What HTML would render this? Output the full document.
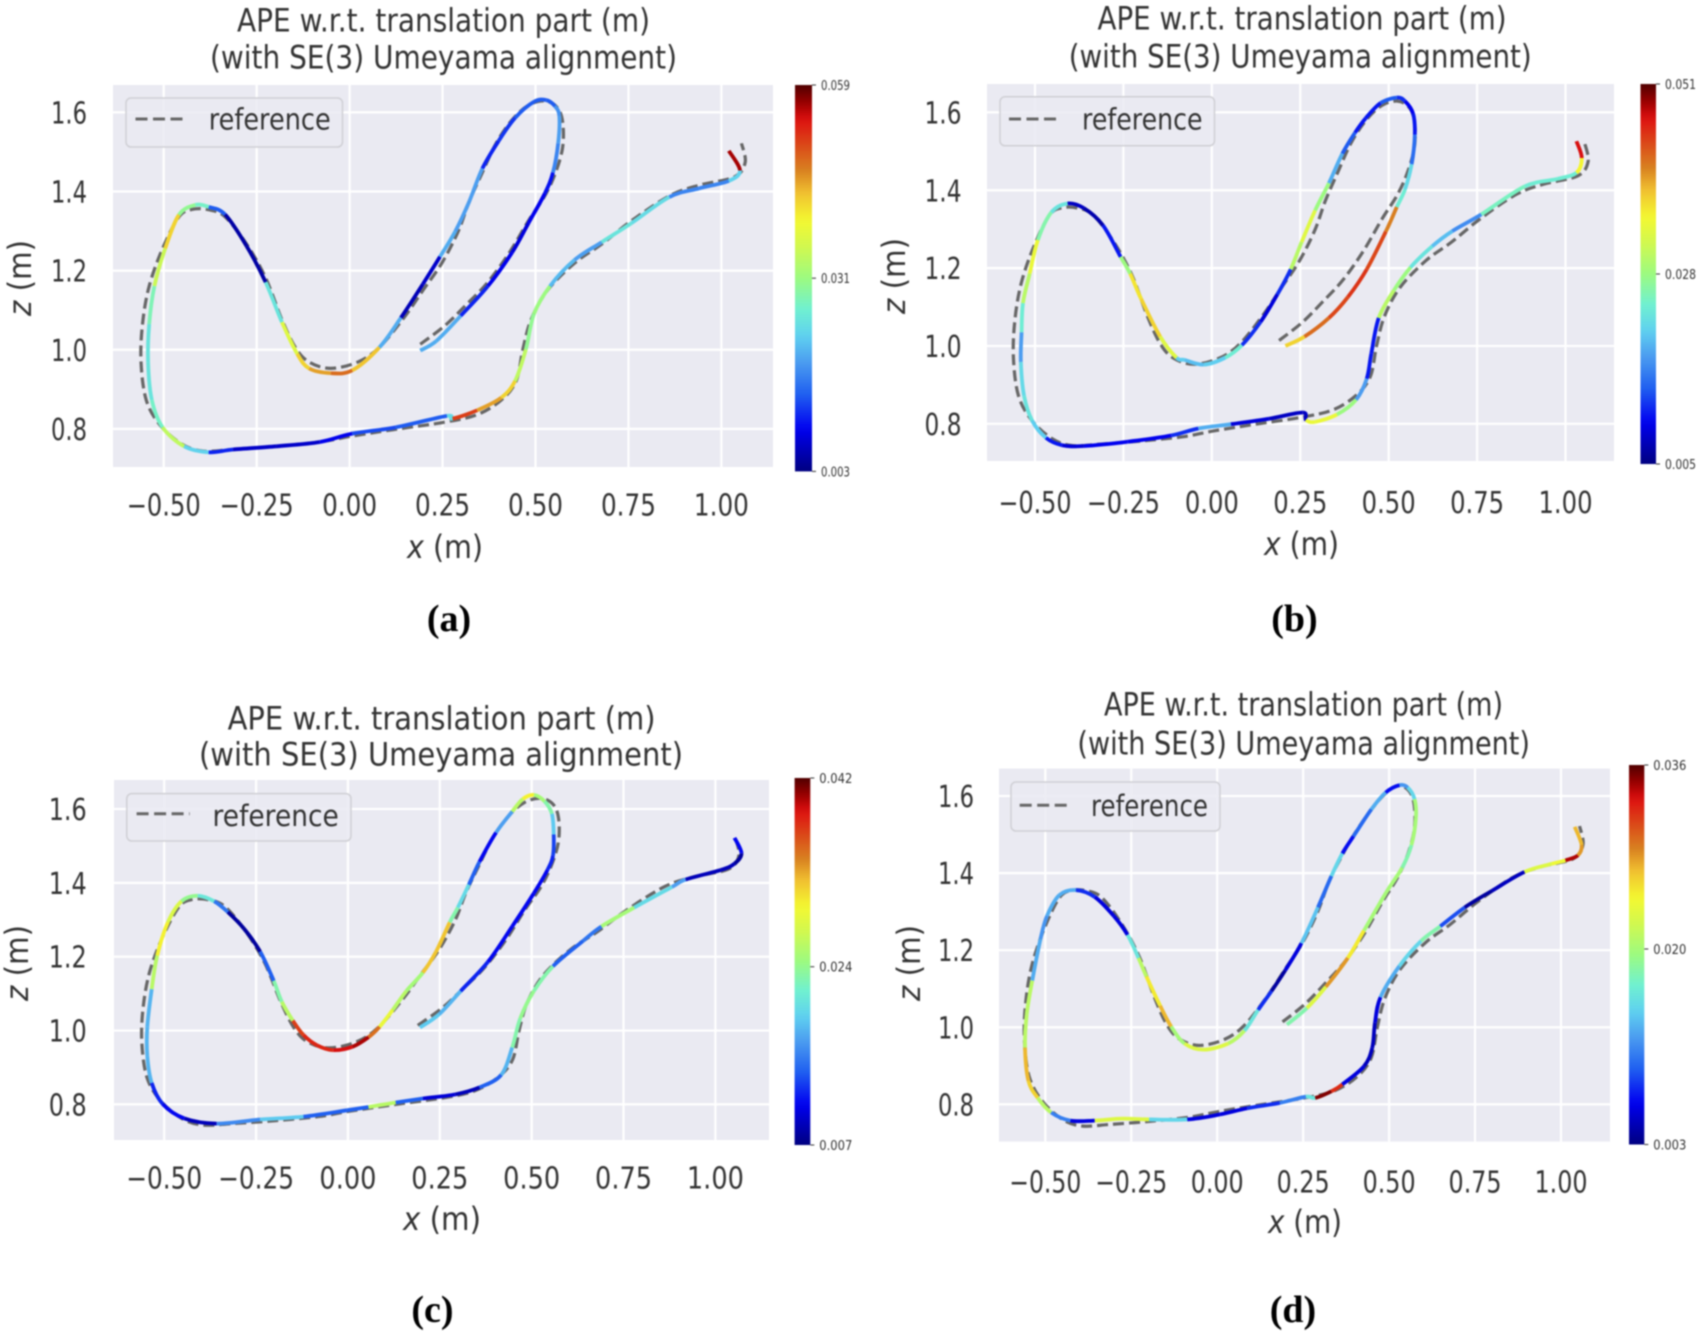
<!DOCTYPE html>
<html lang="en">
<head>
<meta charset="utf-8">
<title>APE trajectory comparison</title>
<style>
html,body{margin:0;padding:0;background:#fff;width:1703px;height:1335px;overflow:hidden}
svg{display:block;filter:blur(.7px)}
text{font-family:"DejaVu Sans","Liberation Sans",sans-serif;fill:#333}
.ttl{font-size:32px}
.lab{font-size:32px}
.leg{font-size:29px}
.cap{font-family:"Liberation Serif",serif;font-weight:bold;font-size:38px;fill:#000;text-anchor:middle}
.lgbox{fill:#eaeaf2;fill-opacity:.85;stroke:#cfcfd4;stroke-width:1.5}
.lgline{stroke:#666;stroke-width:3;stroke-dasharray:12 5.5;fill:none}
.bg{fill:#eaeaf2}
</style>
</head>
<body>
<svg id="fig" xmlns="http://www.w3.org/2000/svg" width="1703" height="1335" viewBox="0 0 1703 1335">
<defs>
<linearGradient id="jetGrad" x1="0" y1="1" x2="0" y2="0"></linearGradient>
</defs>

<g>
<text class="ttl" x="237" y="31.6" textLength="413" lengthAdjust="spacingAndGlyphs">APE w.r.t. translation part (m)</text>
<text class="ttl" x="210" y="68.6" textLength="467" lengthAdjust="spacingAndGlyphs">(with SE(3) Umeyama alignment)</text>
<rect class="bg" x="113" y="85" width="660" height="382"/>
<g id="marks-a"></g>
<rect class="lgbox" x="126" y="98" width="216.5" height="49" rx="5"/>
<line class="lgline" x1="135.5" x2="187" y1="119" y2="119"/>
<text class="leg" x="208.7" y="129.6" textLength="122" lengthAdjust="spacingAndGlyphs">reference</text>
<text class="lab" x="407" y="558" textLength="76" lengthAdjust="spacingAndGlyphs"><tspan font-style="italic">x</tspan> (m)</text>
<text class="lab" transform="translate(31,316) rotate(-90)" textLength="76" lengthAdjust="spacingAndGlyphs"><tspan font-style="italic">z</tspan> (m)</text>
<text class="cap" x="449" y="631">(a)</text>
</g>

<g>
<text class="ttl" x="1097.5" y="29.5" textLength="409" lengthAdjust="spacingAndGlyphs">APE w.r.t. translation part (m)</text>
<text class="ttl" x="1068.7" y="67.3" textLength="463" lengthAdjust="spacingAndGlyphs">(with SE(3) Umeyama alignment)</text>
<rect class="bg" x="987" y="84" width="627" height="377"/>
<g id="marks-b"></g>
<rect class="lgbox" x="1000" y="96.8" width="214.5" height="49" rx="5"/>
<line class="lgline" x1="1009" x2="1060.5" y1="119" y2="119"/>
<text class="leg" x="1082" y="129.6" textLength="120.5" lengthAdjust="spacingAndGlyphs">reference</text>
<text class="lab" x="1264" y="555" textLength="75" lengthAdjust="spacingAndGlyphs"><tspan font-style="italic">x</tspan> (m)</text>
<text class="lab" transform="translate(905,314) rotate(-90)" textLength="76" lengthAdjust="spacingAndGlyphs"><tspan font-style="italic">z</tspan> (m)</text>
<text class="cap" x="1294.5" y="631">(b)</text>
</g>

<g>
<text class="ttl" x="227.6" y="729.3" textLength="428" lengthAdjust="spacingAndGlyphs">APE w.r.t. translation part (m)</text>
<text class="ttl" x="199" y="765.6" textLength="484" lengthAdjust="spacingAndGlyphs">(with SE(3) Umeyama alignment)</text>
<rect class="bg" x="114" y="780" width="655" height="360"/>
<g id="marks-c"></g>
<rect class="lgbox" x="126.8" y="793.6" width="224.2" height="47.4" rx="5"/>
<line class="lgline" x1="136.6" x2="189.7" y1="813.7" y2="813.7"/>
<text class="leg" x="212.5" y="826" textLength="126.3" lengthAdjust="spacingAndGlyphs">reference</text>
<text class="lab" x="403" y="1230" textLength="78" lengthAdjust="spacingAndGlyphs"><tspan font-style="italic">x</tspan> (m)</text>
<text class="lab" transform="translate(28,1001) rotate(-90)" textLength="76" lengthAdjust="spacingAndGlyphs"><tspan font-style="italic">z</tspan> (m)</text>
<text class="cap" x="432.5" y="1322">(c)</text>
</g>

<g>
<text class="ttl" x="1104" y="715.5" textLength="399" lengthAdjust="spacingAndGlyphs">APE w.r.t. translation part (m)</text>
<text class="ttl" x="1077.4" y="754.4" textLength="452.6" lengthAdjust="spacingAndGlyphs">(with SE(3) Umeyama alignment)</text>
<rect class="bg" x="999" y="768.6" width="611" height="373"/>
<g id="marks-d"></g>
<rect class="lgbox" x="1011" y="782" width="209" height="49" rx="5"/>
<line class="lgline" x1="1019.7" x2="1069.8" y1="805.3" y2="805.3"/>
<text class="leg" x="1091" y="815.8" textLength="117" lengthAdjust="spacingAndGlyphs">reference</text>
<text class="lab" x="1268" y="1233" textLength="74" lengthAdjust="spacingAndGlyphs"><tspan font-style="italic">x</tspan> (m)</text>
<text class="lab" transform="translate(920,1001) rotate(-90)" textLength="76" lengthAdjust="spacingAndGlyphs"><tspan font-style="italic">z</tspan> (m)</text>
<text class="cap" x="1293" y="1322">(d)</text>
</g>
</svg>

<script>
/* ---------- tick data ---------- */
const xTickValues=[-0.5,-0.25,0,0.25,0.5,0.75,1];
const xTickLabels=['\u22120.50','\u22120.25','0.00','0.25','0.50','0.75','1.00'];
const zTickValues=[0.8,1.0,1.2,1.4,1.6];
const zTickLabels=['0.8','1.0','1.2','1.4','1.6'];

/* ---------- reference trajectory (metres) ---------- */
const refX=[.19,.255,.313,.372,.43,.481,.525,.554,.573,.573,.558,.525,.481,.437,.394,.357,.321,.292,.248,.197,.146,.08,.022,-.051,-.109,-.146,-.182,-.226,-.277,-.335,-.379,-.423,-.459,-.503,-.539,-.557,-.561,-.547,-.51,-.452,-.394,-.313,-.197,-.08,.007,.124,.255,.343,.408,.448,.466,.488,.532,.605,.678,.758,.86,.94,1.035,1.064,1.054];
const refZ=[1.014,1.06,1.113,1.171,1.246,1.326,1.389,1.448,1.512,1.576,1.613,1.629,1.618,1.581,1.522,1.448,1.373,1.299,1.219,1.15,1.081,1.006,.969,.953,.969,1.006,1.076,1.182,1.267,1.336,1.354,1.355,1.336,1.256,1.161,1.065,.969,.873,.81,.762,.744,.748,.756,.767,.782,.799,.817,.836,.873,.921,1.001,1.076,1.15,1.219,1.267,1.326,1.389,1.416,1.437,1.474,1.522];
/* reference as aligned in panel (d): the upper loop sits slightly lower */
const refXD=[.19,.255,.313,.372,.43,.481,.525,.554,.573,.573,.558,.527,.49,.446,.396,.36,.326,.292,.248,.197,.146,.08,.022,-.051,-.109,-.146,-.182,-.226,-.277,-.335,-.379,-.423,-.459,-.503,-.539,-.557,-.561,-.547,-.51,-.452,-.394,-.313,-.197,-.08,.007,.124,.255,.343,.408,.448,.466,.488,.532,.605,.678,.758,.86,.94,1.035,1.064,1.054];
const refZD=[1.014,1.06,1.113,1.171,1.246,1.326,1.389,1.448,1.512,1.576,1.613,1.627,1.607,1.562,1.497,1.44,1.38,1.299,1.219,1.15,1.081,1.006,.969,.953,.969,1.006,1.076,1.182,1.267,1.336,1.354,1.355,1.336,1.256,1.161,1.065,.969,.873,.81,.762,.744,.748,.756,.767,.782,.799,.817,.836,.873,.921,1.001,1.076,1.15,1.219,1.267,1.326,1.389,1.416,1.437,1.474,1.522];

/* ---------- panel (a) ---------- */
const estXA=[.19,.233,.299,.372,.437,.481,.525,.547,.561,.564,.552,.529,.496,.445,.401,.357,.321,.284,.243,.197,.138,.08,.007,-.051,-.109,-.141,-.182,-.226,-.277,-.335,-.379,-.415,-.459,-.496,-.525,-.539,-.542,-.532,-.503,-.445,-.379,-.313,-.197,-.08,.007,.124,.262,.277,.343,.408,.445,.474,.496,.539,.605,.678,.758,.86,.94,1.02,1.05,1.02];
const estZA=[.998,1.022,1.086,1.161,1.246,1.32,1.395,1.448,1.522,1.591,1.616,1.631,1.627,1.586,1.528,1.458,1.373,1.299,1.235,1.166,1.081,1.006,.948,.941,.953,.99,1.07,1.171,1.262,1.342,1.361,1.366,1.341,1.256,1.161,1.065,.969,.873,.804,.756,.741,.748,.756,.767,.788,.804,.833,.826,.847,.879,.921,1.001,1.091,1.161,1.227,1.272,1.32,1.386,1.408,1.427,1.453,1.503];
const errA=[.020,.020,.011,.009,.008,.009,.010,.017,.019,.018,.014,.014,.014,.012,.011,.019,.019,.020,.007,.006,.020,.043,.048,.045,.042,.037,.025,.005,.005,.014,.027,.030,.042,.035,.028,.025,.025,.027,.034,.023,.011,.007,.007,.009,.013,.014,.024,.051,.045,.042,.034,.030,.031,.021,.019,.025,.024,.017,.017,.023,.056,.059];
const cbarA=[0.059,0.031,0.003];

/* ---------- panel (b) ---------- */
const estXB=[.208,.262,.331,.385,.438,.492,.523,.546,.565,.574,.569,.546,.523,.477,.435,.405,.369,.331,.292,.254,.223,.185,.138,.085,.038,-.023,-.077,-.1,-.146,-.2,-.231,-.258,-.308,-.362,-.408,-.454,-.492,-.515,-.534,-.538,-.54,-.531,-.508,-.469,-.423,-.362,-.238,-.115,-.038,.054,.162,.257,.266,.292,.354,.408,.438,.451,.472,.515,.562,.623,.68,.762,.885,.977,1.031,1.046,1.031];
const estZB=[1.0,1.024,1.072,1.126,1.197,1.294,1.357,1.402,1.467,1.543,1.597,1.629,1.638,1.624,1.585,1.548,1.494,1.418,1.348,1.267,1.197,1.132,1.062,1.002,.97,.952,.964,.97,1.024,1.121,1.186,1.229,1.31,1.354,1.366,1.343,1.272,1.186,1.11,1.035,.959,.872,.808,.764,.745,.743,.754,.77,.788,.799,.813,.829,.81,.805,.824,.862,.916,.981,1.072,1.143,1.202,1.256,1.295,1.338,1.41,1.429,1.445,1.483,1.526];
const errB=[.037,.042,.044,.045,.044,.041,.024,.022,.015,.011,.010,.012,.014,.011,.011,.014,.019,.028,.033,.030,.012,.009,.012,.024,.021,.020,.021,.033,.037,.036,.028,.011,.007,.008,.023,.026,.034,.030,.024,.018,.022,.023,.021,.011,.009,.010,.010,.012,.019,.009,.008,.008,.034,.034,.028,.018,.011,.011,.030,.028,.023,.020,.017,.025,.024,.024,.035,.047,.051];
const cbarB=[0.051,0.028,0.005];

/* ---------- panel (c) ---------- */
const estXC=[.196,.248,.307,.381,.447,.506,.543,.558,.56,.555,.535,.506,.476,.447,.403,.358,.329,.299,.277,.24,.204,.159,.122,.086,.056,.012,-.04,-.084,-.121,-.15,-.18,-.202,-.239,-.283,-.327,-.364,-.409,-.453,-.49,-.519,-.534,-.546,-.546,-.534,-.504,-.445,-.357,-.239,-.121,-.003,.056,.13,.204,.292,.358,.417,.447,.469,.506,.558,.639,.69,.779,.882,.919,1.015,1.052,1.071,1.052];
const estZC=[1.008,1.044,1.107,1.186,1.282,1.372,1.435,1.474,1.531,1.587,1.621,1.638,1.627,1.593,1.536,1.457,1.395,1.333,1.293,1.214,1.157,1.107,1.056,1.01,.982,.956,.947,.96,.988,1.027,1.078,1.135,1.214,1.276,1.321,1.35,1.365,1.35,1.293,1.203,1.112,1.01,.931,.858,.801,.762,.748,.759,.767,.784,.793,.805,.816,.827,.846,.88,.954,1.033,1.107,1.174,1.242,1.282,1.333,1.389,1.409,1.435,1.452,1.48,1.522];
const errC=[.019,.018,.012,.011,.011,.011,.012,.013,.019,.023,.025,.030,.026,.017,.011,.014,.020,.023,.032,.032,.025,.026,.029,.035,.040,.039,.038,.038,.037,.026,.023,.014,.008,.008,.015,.021,.024,.028,.030,.026,.018,.018,.018,.012,.011,.009,.016,.019,.014,.014,.026,.014,.010,.009,.014,.018,.023,.024,.023,.014,.015,.025,.020,.017,.009,.009,.008,.011,.014];
const cbarC=[0.042,0.024,0.007];

/* ---------- panel (d) ---------- */
const estXD=[.203,.261,.316,.38,.427,.491,.538,.565,.578,.574,.554,.53,.49,.448,.396,.364,.332,.293,.245,.198,.158,.119,.079,.032,-.04,-.095,-.134,-.166,-.206,-.229,-.261,-.301,-.356,-.411,-.459,-.495,-.514,-.538,-.554,-.559,-.549,-.522,-.483,-.427,-.356,-.277,-.198,-.087,.008,.087,.182,.258,.285,.332,.364,.427,.451,.459,.475,.53,.593,.649,.72,.799,.894,.973,1.013,1.049,1.06,1.04];
const estZD=[1.007,1.05,1.105,1.18,1.251,1.349,1.414,1.473,1.544,1.592,1.622,1.628,1.609,1.565,1.495,1.451,1.392,1.311,1.218,1.148,1.094,1.045,.991,.958,.942,.958,1.002,1.056,1.132,1.18,1.24,1.289,1.338,1.356,1.343,1.289,1.229,1.121,1.034,.947,.861,.817,.779,.758,.758,.763,.761,.761,.774,.79,.804,.82,.817,.834,.852,.899,.947,1.012,1.078,1.159,1.224,1.262,1.311,1.354,1.403,1.424,1.433,1.446,1.473,1.52];
const errD=[.018,.023,.028,.025,.020,.020,.018,.020,.020,.015,.012,.007,.013,.010,.007,.015,.010,.014,.006,.004,.008,.016,.021,.023,.023,.020,.027,.025,.021,.016,.006,.006,.008,.013,.013,.012,.013,.021,.021,.027,.026,.021,.011,.006,.023,.023,.015,.006,.006,.008,.011,.016,.035,.032,.006,.005,.005,.006,.013,.015,.018,.009,.004,.005,.023,.024,.034,.028,.027,.027];
const cbarD=[0.036,0.020,0.003];

/* ---------- panel layout (axes calibration, not data) ---------- */
const panelA={id:'a',xs:estXA,zs:estZA,errs:errA,rx:refX,rz:refZ,cbar:cbarA,px0:163.7,px1:721.4,pz8:428.9,pz16:112.4,left:113,right:773,top:85,bottom:467,cbL:795,cbR:812,cbT:85,cbB:471.4,lblW:29,xLblY:515.5,negW:74,posW:55,yR:87,yW:36};
const panelB={id:'b',xs:estXB,zs:estZB,errs:errB,rx:refX,rz:refZ,cbar:cbarB,px0:1035,px1:1565.5,pz8:423.8,pz16:112.4,left:987,right:1614,top:84,bottom:461,cbL:1640.5,cbR:1656,cbT:84,cbB:464,lblW:31,xLblY:513,negW:73,posW:54,yR:961.5,yW:37};
const panelC={id:'c',xs:estXC,zs:estZC,errs:errC,rx:refX,rz:refZ,cbar:cbarC,px0:164.2,px1:715.4,pz8:1104.4,pz16:809,left:114,right:769,top:780,bottom:1140,cbL:794.6,cbR:810.3,cbT:778,cbB:1145,lblW:33,xLblY:1188.5,negW:76,posW:57,yR:86.7,yW:38};
const panelD={id:'d',xs:estXD,zs:estZD,errs:errD,rx:refXD,rz:refZD,cbar:cbarD,px0:1045.3,px1:1561,pz8:1104.4,pz16:796,left:999,right:1610,top:768.6,bottom:1141.6,cbL:1629,cbR:1644.3,cbT:765,cbB:1144.5,lblW:33,xLblY:1192.5,negW:72,posW:53,yR:974,yW:36};

const SVGNS='http://www.w3.org/2000/svg';

/* softened jet as it appears in the figure */
const jetStops=[[0,[0,0,128]],[.11,[0,0,240]],[.2,[32,96,240]],[.28,[74,154,240]],[.35,[95,208,240]],[.42,[112,240,208]],[.5,[156,250,128]],[.58,[208,248,80]],[.65,[244,248,48]],[.72,[240,192,48]],[.78,[216,128,32]],[.91,[221,16,16]],[.95,[160,0,0]],[1,[80,0,0]]];
function jet(t){
  t=Math.max(0,Math.min(1,t));
  for(let i=1;i<jetStops.length;i++){
    if(t<=jetStops[i][0]){
      const a=jetStops[i-1],b=jetStops[i],f=(t-a[0])/(b[0]-a[0]);
      const c=a[1].map((v,k)=>Math.round(v+(b[1][k]-v)*f));
      return 'rgb('+c.join(',')+')';
    }
  }
  return 'rgb(80,0,0)';
}

(function fillGradient(){
  const grad=document.getElementById('jetGrad');
  for(let i=0;i<=50;i++){
    const s=document.createElementNS(SVGNS,'stop');
    s.setAttribute('offset',(i/50));
    s.setAttribute('stop-color',jet(i/50));
    grad.appendChild(s);
  }
})();

function catmullSegment(p,i){
  const p0=p[Math.max(0,i-1)],p1=p[i],p2=p[i+1],p3=p[Math.min(p.length-1,i+2)];
  const c1x=p1[0]+(p2[0]-p0[0])/6,c1y=p1[1]+(p2[1]-p0[1])/6;
  const c2x=p2[0]-(p3[0]-p1[0])/6,c2y=p2[1]-(p3[1]-p1[1])/6;
  return 'C'+c1x.toFixed(2)+' '+c1y.toFixed(2)+' '+c2x.toFixed(2)+' '+c2y.toFixed(2)+' '+p2[0].toFixed(2)+' '+p2[1].toFixed(2);
}

function drawPanel(P){
  const g=document.getElementById('marks-'+P.id);
  const xScale=v=>P.px0+(v+0.5)*(P.px1-P.px0)/1.5;
  const zScale=v=>P.pz8+(v-0.8)*(P.pz16-P.pz8)/0.8;

  xTickValues.forEach((v,i)=>{
    const ln=document.createElementNS(SVGNS,'line');
    
    
    ln.setAttribute('x1',xScale(v));ln.setAttribute('x2',xScale(v));
    ln.setAttribute('y1',P.top);ln.setAttribute('y2',P.bottom);
    ln.setAttribute('stroke','#fff');ln.setAttribute('stroke-width','2.2');
    g.appendChild(ln);
    const t=document.createElementNS(SVGNS,'text');
    
    
    const w=xTickLabels[i].charAt(0)==='\u2212'?P.negW:P.posW;
    t.setAttribute('x',xScale(v)-w/2);t.setAttribute('y',P.xLblY);
    t.setAttribute('font-size','30');
    t.setAttribute('textLength',w);t.setAttribute('lengthAdjust','spacingAndGlyphs');
    t.textContent=xTickLabels[i];
    g.appendChild(t);
  });
  zTickValues.forEach((v,i)=>{
    const ln=document.createElementNS(SVGNS,'line');
    
    
    ln.setAttribute('x1',P.left);ln.setAttribute('x2',P.right);
    ln.setAttribute('y1',zScale(v));ln.setAttribute('y2',zScale(v));
    ln.setAttribute('stroke','#fff');ln.setAttribute('stroke-width','2.2');
    g.appendChild(ln);
    const t=document.createElementNS(SVGNS,'text');
    
    
    t.setAttribute('x',P.yR-P.yW);t.setAttribute('y',zScale(v)+11);
    t.setAttribute('font-size','30');
    t.setAttribute('textLength',P.yW);t.setAttribute('lengthAdjust','spacingAndGlyphs');
    t.textContent=zTickLabels[i];
    g.appendChild(t);
  });

  /* reference trajectory (underneath) */
  const rp=P.rx.map((x,i)=>[xScale(x),zScale(P.rz[i])]);
  let d='M'+rp[0][0].toFixed(2)+' '+rp[0][1].toFixed(2);
  for(let i=0;i<rp.length-1;i++){d+=catmullSegment(rp,i);}
  const ref=document.createElementNS(SVGNS,'path');
  
  
  ref.setAttribute('d',d);
  ref.setAttribute('fill','none');
  ref.setAttribute('stroke','#666');
  ref.setAttribute('stroke-width','3.2');
  ref.setAttribute('stroke-dasharray','11 5');
  g.appendChild(ref);

  /* estimated trajectory coloured by error */
  const vMax=P.cbar[0],vMin=P.cbar[2];
  const pts=P.xs.map((x,i)=>[xScale(x),zScale(P.zs[i])]);
  for(let i=0;i<pts.length-1;i++){
    const seg=document.createElementNS(SVGNS,'path');
    
    
    seg.setAttribute('d','M'+pts[i][0].toFixed(2)+' '+pts[i][1].toFixed(2)+catmullSegment(pts,i));
    seg.setAttribute('fill','none');
    seg.setAttribute('stroke',jet((P.errs[i]-vMin)/(vMax-vMin)));
    seg.setAttribute('stroke-width','3.8');
    seg.setAttribute('stroke-linecap','butt');
    g.appendChild(seg);
  }

  /* colour bar */
  const bar=document.createElementNS(SVGNS,'rect');
  
  
  bar.setAttribute('x',P.cbL);bar.setAttribute('y',P.cbT);
  bar.setAttribute('width',P.cbR-P.cbL);bar.setAttribute('height',P.cbB-P.cbT);
  bar.setAttribute('fill','url(#jetGrad)');
  g.appendChild(bar);
  const cbScale=v=>P.cbB-(v-vMin)/(vMax-vMin)*(P.cbB-P.cbT);
  P.cbar.forEach(v=>{
    const tk=document.createElementNS(SVGNS,'line');
    
    
    tk.setAttribute('x1',P.cbR);tk.setAttribute('x2',P.cbR+4);
    tk.setAttribute('y1',cbScale(v));tk.setAttribute('y2',cbScale(v));
    tk.setAttribute('stroke','#333');tk.setAttribute('stroke-width','1');
    g.appendChild(tk);
    const t=document.createElementNS(SVGNS,'text');
    
    
    t.setAttribute('x',P.cbR+9);t.setAttribute('y',cbScale(v)+5);
    t.setAttribute('font-size','13');
    t.setAttribute('textLength',P.lblW);t.setAttribute('lengthAdjust','spacingAndGlyphs');
    t.textContent=v.toFixed(3);
    g.appendChild(t);
  });
}
[panelA,panelB,panelC,panelD].forEach(drawPanel);
</script>
</body>
</html>
